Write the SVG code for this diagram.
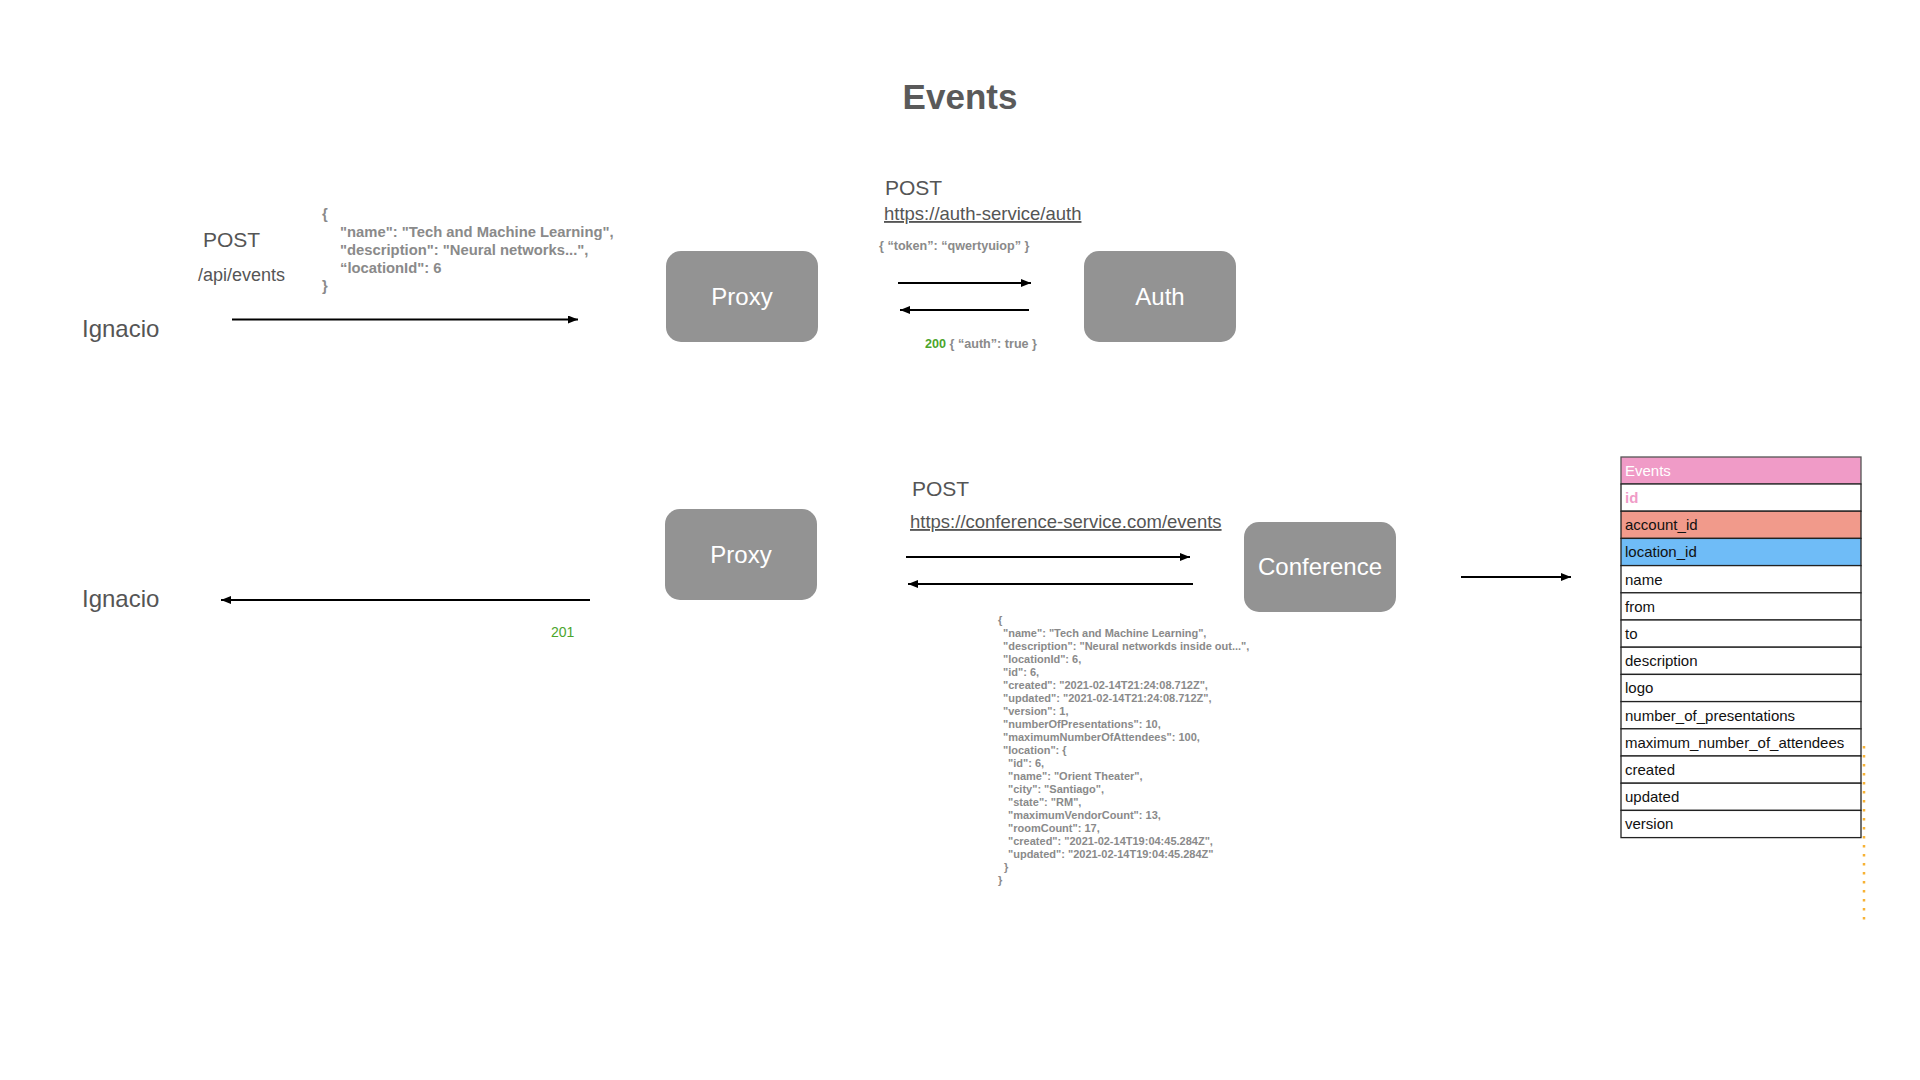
<svg xmlns="http://www.w3.org/2000/svg" width="1920" height="1080" viewBox="0 0 1920 1080">
<style>
  .bg{fill:#ffffff}
  .title{font-family:"Liberation Sans",Arial,sans-serif;font-size:35px;font-weight:bold;fill:#5a5a5a}
  .actor{font-family:"Liberation Sans",Arial,sans-serif;font-size:24px;fill:#555555}
  .verb{font-family:"Liberation Sans",Arial,sans-serif;font-size:21px;fill:#555555}
  .path{font-family:"Liberation Sans",Arial,sans-serif;font-size:18px;fill:#555555}
  .url{font-family:"Liberation Sans",Arial,sans-serif;font-size:18.5px;fill:#555555;text-decoration:underline}
  .json{font-family:"Liberation Sans",Arial,sans-serif;font-size:14.8px;font-weight:bold;fill:#8a8a8a}
  .jsonsm{font-family:"Liberation Sans",Arial,sans-serif;font-size:12.6px;font-weight:bold;fill:#8a8a8a}
  .jsonxs{font-family:"Liberation Sans",Arial,sans-serif;font-size:11px;font-weight:bold;fill:#8a8a8a}
  .ok{fill:#4ba52c}
  .code201{font-family:"Liberation Sans",Arial,sans-serif;font-size:14px;fill:#4ba52c}
  .box{fill:#939393}
  .boxlabel{font-family:"Liberation Sans",Arial,sans-serif;font-size:24px;fill:#ffffff;text-anchor:middle}
  .conn{stroke:#000000;stroke-width:2;fill:none}
  .row{fill:#ffffff;stroke:#222222;stroke-width:1.3}
  .cell{font-family:"Liberation Sans",Arial,sans-serif;font-size:15px;fill:#111111}
</style>
<defs>
  <marker id="arrow" markerUnits="userSpaceOnUse" markerWidth="11" markerHeight="8" refX="10" refY="4" orient="auto">
    <path d="M0,0 L10,4 L0,8 z" fill="#000000"/>
  </marker>
</defs>
<rect class="bg" x="0" y="0" width="1920" height="1080"/>

<text class="title" x="960" y="109" text-anchor="middle">Events</text>

<!-- Top row labels -->
<g id="ignacio-top"><text class="actor" x="82" y="337">Ignacio</text></g>
<text class="verb" x="203" y="247">POST</text>
<text class="path" x="198" y="281">/api/events</text>
<g id="json-request">
  <text class="json" x="322" y="219">{</text>
  <text class="json" x="340" y="237">"name": "Tech and Machine Learning",</text>
  <text class="json" x="340" y="255">"description": "Neural networks...",</text>
  <text class="json" x="340" y="273">“locationId": 6</text>
  <text class="json" x="322" y="291">}</text>
</g>

<g id="proxy-top">
  <rect class="box" x="666" y="251" width="152" height="91" rx="15"/>
  <text class="boxlabel" x="742" y="305">Proxy</text>
</g>

<text class="verb" x="885" y="195">POST</text>
<text class="url" x="884" y="220">https://auth-service/auth</text>
<text class="jsonsm" x="879" y="250">{ “token”: “qwertyuiop” }</text>
<text class="jsonsm" x="925" y="348"><tspan class="ok">200</tspan> { “auth”: true }</text>

<g id="auth">
  <rect class="box" x="1084" y="251" width="152" height="91" rx="15"/>
  <text class="boxlabel" x="1160" y="305">Auth</text>
</g>

<!-- Bottom row -->
<g id="ignacio-bottom"><text class="actor" x="82" y="607">Ignacio</text></g>
<text class="code201" x="551" y="637">201</text>

<g id="proxy-bottom">
  <rect class="box" x="665" y="509" width="152" height="91" rx="15"/>
  <text class="boxlabel" x="741" y="563">Proxy</text>
</g>

<text class="verb" x="912" y="496">POST</text>
<text class="url" x="910" y="528">https://conference-service.com/events</text>

<g id="conference">
  <rect class="box" x="1244" y="522" width="152" height="90" rx="15"/>
  <text class="boxlabel" x="1320" y="575">Conference</text>
</g>

<g id="json-response">
  <text class="jsonxs" x="998" y="623.5">{</text>
  <text class="jsonxs" x="1003" y="636.5">"name": "Tech and Machine Learning",</text>
  <text class="jsonxs" x="1003" y="649.5">"description": "Neural networkds inside out...",</text>
  <text class="jsonxs" x="1003" y="662.5">"locationId": 6,</text>
  <text class="jsonxs" x="1003" y="675.5">"id": 6,</text>
  <text class="jsonxs" x="1003" y="688.5">"created": "2021-02-14T21:24:08.712Z",</text>
  <text class="jsonxs" x="1003" y="701.5">"updated": "2021-02-14T21:24:08.712Z",</text>
  <text class="jsonxs" x="1003" y="714.5">"version": 1,</text>
  <text class="jsonxs" x="1003" y="727.5">"numberOfPresentations": 10,</text>
  <text class="jsonxs" x="1003" y="740.5">"maximumNumberOfAttendees": 100,</text>
  <text class="jsonxs" x="1003" y="753.5">"location": {</text>
  <text class="jsonxs" x="1008" y="766.5">"id": 6,</text>
  <text class="jsonxs" x="1008" y="779.5">"name": "Orient Theater",</text>
  <text class="jsonxs" x="1008" y="792.5">"city": "Santiago",</text>
  <text class="jsonxs" x="1008" y="805.5">"state": "RM",</text>
  <text class="jsonxs" x="1008" y="818.5">"maximumVendorCount": 13,</text>
  <text class="jsonxs" x="1008" y="831.5">"roomCount": 17,</text>
  <text class="jsonxs" x="1008" y="844.5">"created": "2021-02-14T19:04:45.284Z",</text>
  <text class="jsonxs" x="1008" y="857.5">"updated": "2021-02-14T19:04:45.284Z"</text>
  <text class="jsonxs" x="1004" y="870.5">}</text>
  <text class="jsonxs" x="998" y="883.5">}</text>
</g>

<!-- Events table -->
<g id="events-table">
  <rect x="1621" y="457" width="240" height="27" fill="#f09bc7" stroke="#555555" stroke-width="1.3"/>
  <text class="cell" x="1625" y="476" style="fill:#ffffff">Events</text>
  <rect class="row" x="1621" y="484" width="240" height="27.2"/>
  <text class="cell" x="1625" y="503" style="fill:#f09bc7;font-weight:bold">id</text>
  <rect class="row" x="1621" y="511.2" width="240" height="27.2" style="fill:#f19a8b"/>
  <text class="cell" x="1625" y="530.2">account_id</text>
  <rect class="row" x="1621" y="538.4" width="240" height="27.2" style="fill:#6fbcf7"/>
  <text class="cell" x="1625" y="557.4">location_id</text>
  <rect class="row" x="1621" y="565.6" width="240" height="27.2"/>
  <text class="cell" x="1625" y="584.6">name</text>
  <rect class="row" x="1621" y="592.8" width="240" height="27.2"/>
  <text class="cell" x="1625" y="611.8">from</text>
  <rect class="row" x="1621" y="620" width="240" height="27.2"/>
  <text class="cell" x="1625" y="639">to</text>
  <rect class="row" x="1621" y="647.2" width="240" height="27.2"/>
  <text class="cell" x="1625" y="666.2">description</text>
  <rect class="row" x="1621" y="674.4" width="240" height="27.2"/>
  <text class="cell" x="1625" y="693.4">logo</text>
  <rect class="row" x="1621" y="701.6" width="240" height="27.2"/>
  <text class="cell" x="1625" y="720.6">number_of_presentations</text>
  <rect class="row" x="1621" y="728.8" width="240" height="27.2"/>
  <text class="cell" x="1625" y="747.8">maximum_number_of_attendees</text>
  <rect class="row" x="1621" y="756" width="240" height="27.2"/>
  <text class="cell" x="1625" y="775">created</text>
  <rect class="row" x="1621" y="783.2" width="240" height="27.2"/>
  <text class="cell" x="1625" y="802.2">updated</text>
  <rect class="row" x="1621" y="810.4" width="240" height="27.2"/>
  <text class="cell" x="1625" y="829.4">version</text>
</g>

<line x1="1864" y1="746" x2="1864" y2="920" stroke="#f7b234" stroke-width="2.5" stroke-dasharray="2.5 6.5"/>

<!-- Connectors -->
<g id="connectors">
  <line class="conn" x1="232" y1="319.5" x2="578" y2="319.5" marker-end="url(#arrow)"/>
  <line class="conn" x1="898" y1="283" x2="1031" y2="283" marker-end="url(#arrow)"/>
  <line class="conn" x1="1029" y1="310" x2="900" y2="310" marker-end="url(#arrow)"/>
  <line class="conn" x1="906" y1="557" x2="1190" y2="557" marker-end="url(#arrow)"/>
  <line class="conn" x1="1193" y1="584" x2="908" y2="584" marker-end="url(#arrow)"/>
  <line class="conn" x1="1461" y1="577" x2="1571" y2="577" marker-end="url(#arrow)"/>
  <line class="conn" x1="590" y1="600" x2="221" y2="600" marker-end="url(#arrow)"/>
</g>
</svg>
